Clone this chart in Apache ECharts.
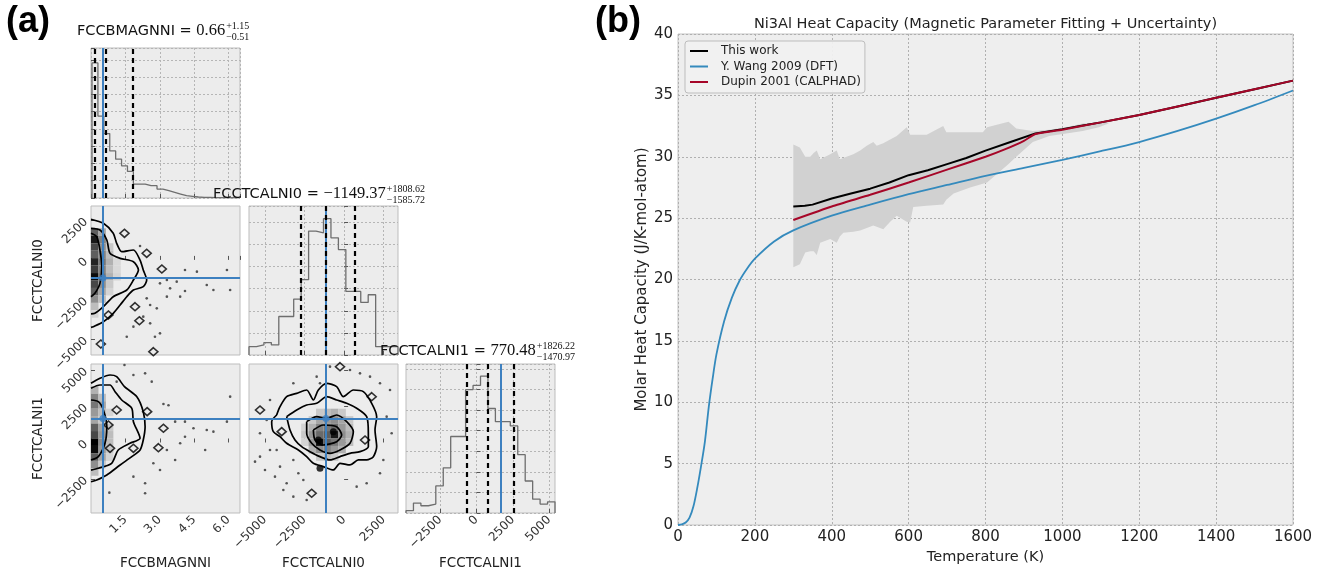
<!DOCTYPE html>
<html>
<head>
<meta charset="utf-8">
<script src="https://cdn.jsdelivr.net/npm/echarts@6/dist/echarts.min.js"></script>
<style>
html, body { margin: 0; padding: 0; background: #fff; }
#chart { width: 1322px; height: 574px; }
</style>
</head>
<body>
<div id="chart"></div>
<script>
var SANS = '"DejaVu Sans", sans-serif';
var SERIF = '"Liberation Serif", "DejaVu Serif", serif';
var BLUE_A = '#3d80c0';

// ---------- panel (a): corner plot ----------
var bmagRange = [0, 6.5];
var cal0Range = [-6000, 3400];
var cal1Range = [-4850, 5400];
var cal0Ticks = [-5000, -2500, 0, 2500];
var cal1Ticks = [-2500, 0, 2500, 5000];

// histogram counts (bins span the given range)
var bmagHistRange = [0.044, 6.49];
var bmagHist = [407, 247, 194, 142, 117, 97, 80, 42, 42, 37, 37, 27, 22, 17, 12, 7, 5, 3, 2, 2, 1, 1, 1, 1, 1];
var cal0Hist = [25, 30, 37, 30, 115, 115, 167, 225, 370, 365, 407, 350, 315, 190, 190, 157, 180, 25, 25, 25];
var cal1Hist = [7, 30, 22, 27, 82, 137, 232, 232, 374, 387, 415, 317, 277, 277, 264, 177, 97, 42, 27, 34];

var bmagQuant = [0.15, 0.66, 1.81];
var cal0Quant = [-2735.09, -1149.37, 659.25];
var cal1Quant = [-700.49, 770.48, 2596.70];
var truthVals = [0.52, -1150, 1650];

// FCCBMAGNNI vs FCCTCALNI0
var mlOuter = [[0, 2560], [0.54, 2307], [0.97, 1680], [1.12, 1047], [1.34, 517], [1.85, 624], [2.14, -7], [2.28, -638], [2.43, -1269], [2.28, -1690], [1.85, -1900], [1.56, -2322], [1.27, -2846], [0.97, -3370], [0.54, -3900], [0.1, -4215], [0, -4260]];
var mlMid = [[0, 1990], [0.39, 1886], [0.69, 1255], [0.83, 414], [1.27, 98], [1.85, -112], [2.07, -638], [1.85, -1269], [1.56, -1900], [0.97, -2322], [0.54, -2952], [0.17, -3372], [0, -3400]];
var mlInner = [[0, 1680], [0.25, 1465], [0.39, 624], [0.47, -428], [0.39, -1479], [0.17, -2110], [0, -2322]];
var mlIslands = [[2.43, 414], [3.09, -575], [1.92, -2952], [2.11, -3836], [0.76, -3477], [1.46, 1677], [0.43, -5307], [2.72, -5790]];
var mlPoints = [[4.10, -1963], [2.43, -2425], [2.79, -4844], [3.01, -4634], [3.45, -1795], [3.74, -1374], [4.10, -638], [4.62, -743], [5.34, -1900], [5.93, -638], [6.07, -1900], [2.14, 876], [1.85, -4213], [2.28, -3582], [2.58, -2846], [2.87, -3056], [3.31, -2320], [3.89, -2320], [3.01, -1479], [3.31, -1269], [5.05, -1584], [2.58, -4003], [1.56, -4844]];
// [xBin, yBin, level]
var mlCells = [[0, 16, 0.6], [0, 15, 0.9], [0, 14, 0.7], [0, 13, 0.6], [0, 12, 0.85], [0, 11, 0.75], [0, 10, 0.95], [0, 9, 0.7], [0, 8, 0.6], [0, 7, 0.4], [0, 6, 0.2], [0, 5, 0.1],
  [1, 16, 0.3], [1, 15, 0.45], [1, 14, 0.4], [1, 13, 0.45], [1, 12, 0.5], [1, 11, 0.45], [1, 10, 0.5], [1, 9, 0.4], [1, 8, 0.3], [1, 7, 0.2],
  [2, 14, 0.15], [2, 13, 0.2], [2, 12, 0.25], [2, 11, 0.2], [2, 10, 0.25], [2, 9, 0.15], [2, 8, 0.1],
  [3, 12, 0.08], [3, 11, 0.08], [3, 10, 0.1]];

// FCCBMAGNNI vs FCCTCALNI1
var blOuter = [[0, 4071], [0.39, 4415], [0.83, 4643], [1.12, 4529], [1.46, 3841], [2.0, 3153], [2.28, 2122], [2.36, 1090], [2.28, 173], [2.14, -514], [1.78, -973], [1.27, -1546], [0.69, -2234], [0.25, -2578], [0, -2700]];
var blMid = [[0, 3727], [0.39, 3956], [0.83, 3956], [1.05, 3497], [1.34, 2924], [1.78, 2351], [1.85, 1434], [2.14, 288], [1.70, -56], [1.19, -514], [0.90, -1431], [0.32, -1776], [0, -1900]];
var blInner = [[0, 2924], [0.32, 2810], [0.54, 2236], [0.69, 1090], [0.61, -56], [0.32, -973], [0, -1202]];
var blIslands = [[1.12, 2236], [2.45, 2122], [3.16, 978], [2.94, -356], [1.85, -400], [0.83, -400], [0.76, 1205]];
var blPoints = [[1.46, 5331], [1.85, 4643], [2.36, 4757], [2.65, 4185], [3.16, 2649], [3.38, 2560], [3.67, 1434], [4.10, 1434], [4.47, 978], [5.34, 745], [6.07, 3153], [5.93, 1434], [4.10, 400], [3.89, -56], [3.31, -514], [3.67, -1202], [2.72, -1431], [3.01, -1890], [1.85, -2351], [2.36, -2805], [2.36, -3493], [0.8, -3451], [4.98, -514], [5.05, 861], [1.12, 4185]];
var blCells = [[0, 16, 0.25], [0, 15, 0.45], [0, 14, 0.5], [0, 13, 0.35], [0, 12, 0.3], [0, 11, 0.6], [0, 10, 0.7], [0, 9, 1.0], [0, 8, 0.95], [0, 7, 0.6], [0, 6, 0.4], [0, 5, 0.2],
  [1, 15, 0.2], [1, 14, 0.3], [1, 13, 0.2], [1, 12, 0.15], [1, 11, 0.3], [1, 10, 0.35], [1, 9, 0.4], [1, 8, 0.35], [1, 7, 0.3], [1, 6, 0.15],
  [2, 13, 0.1], [2, 11, 0.15], [2, 10, 0.2], [2, 9, 0.2], [2, 8, 0.15], [2, 7, 0.1]];

// FCCTCALNI0 vs FCCTCALNI1
var bmOuter = [[-4255, 1892], [-4044, 2465], [-3624, 3153], [-2992, 3382], [-2361, 3612], [-1941, 2924], [-1626, 3612], [-1100, 4071], [-470, 3841], [-49, 3153], [582, 3612], [1213, 3497], [1740, 2695], [2055, 1778], [1950, 861], [2055, -285], [1845, -973], [1424, -1202], [898, -1202], [372, -1546], [-259, -1431], [-680, -1890], [-1311, -1660], [-1941, -1431], [-2361, -973], [-2887, -515], [-3624, -56], [-4044, 402], [-4465, 746], [-4570, 1434], [-4255, 1892]];
var bmMid = [[-3624, 1778], [-2992, 2236], [-2361, 2580], [-1731, 2695], [-1100, 3153], [-470, 2924], [162, 2695], [793, 2351], [1424, 1778], [1529, 631], [1529, -285], [1003, -630], [372, -744], [-259, -973], [-890, -1202], [-1521, -973], [-2151, -630], [-2677, -285], [-3098, 173], [-3413, 861], [-3624, 1778]];
var bmInner = [[-2361, 1434], [-1731, 1778], [-1100, 1663], [-470, 1892], [162, 1434], [582, 746], [372, -56], [-259, -515], [-890, -744], [-1521, -515], [-2046, -56], [-2361, 631], [-2361, 1434]];
var bmCore = [[-1941, 861], [-1311, 1205], [-470, 1090], [-154, 517], [-470, 59], [-1311, -171], [-1836, 173], [-1941, 861]];
var bmIslands = [[-5306, 2236], [-3939, 746], [-2046, -3493], [-259, 5216], [1740, 3153], [1319, 173]];
var bmDark = [[-1626, 173], [-680, 745], [-1521, -1776]];
var bmPoints = [[-5621, -1318], [-5306, -973], [-4991, -1890], [-4675, -515], [-4360, -2349], [-4044, -1660], [-3624, -2807], [-3203, -1202], [-4255, -515], [-3834, -3266], [-3203, -3725], [-2572, -2578], [-2887, -2119], [-1731, 4529], [-1521, 4071], [-890, 5217], [372, 4987], [1003, 4758], [1634, 4529], [2265, 4071], [2896, 3612], [2685, 1778], [3001, 631], [2475, -1202], [2265, -2119], [1424, -2807], [793, -3036], [-2361, -3954], [-4675, 2924], [-4885, 1548], [-5306, 631], [-3203, 4071]];
var bmCells = [[9, 13, 0.15], [10, 13, 0.2], [11, 13, 0.25], [12, 13, 0.15],
  [8, 12, 0.15], [9, 12, 0.3], [10, 12, 0.35], [11, 12, 0.4], [12, 12, 0.3], [13, 12, 0.15],
  [7, 11, 0.1], [8, 11, 0.25], [9, 11, 0.45], [10, 11, 0.5], [11, 11, 0.55], [12, 11, 0.35], [13, 11, 0.2],
  [7, 10, 0.15], [8, 10, 0.35], [9, 10, 0.55], [10, 10, 0.6], [11, 10, 0.9], [12, 10, 0.4], [13, 10, 0.25],
  [7, 9, 0.1], [8, 9, 0.35], [9, 9, 0.95], [10, 9, 0.6], [11, 9, 0.5], [12, 9, 0.35], [13, 9, 0.2],
  [8, 8, 0.25], [9, 8, 0.4], [10, 8, 0.45], [11, 8, 0.35], [12, 8, 0.25],
  [9, 7, 0.15], [10, 7, 0.2], [11, 7, 0.15]];

// ---------- panel (b): heat capacity ----------
var thisWorkT = [300, 330, 350, 400, 450, 500, 550, 600, 650, 700, 750, 800, 865, 930, 1000, 1064, 1100, 1200, 1300, 1400, 1500, 1600];
var thisWorkCp = [25.95, 26.0, 26.1, 26.6, 27.0, 27.4, 27.9, 28.5, 28.9, 29.4, 29.9, 30.5, 31.2, 31.9, 32.25, 32.6, 32.8, 33.4, 34.1, 34.8, 35.5, 36.2];
var wangT = [0, 10, 20, 30, 40, 50, 60, 70, 80, 90, 100, 120, 140, 160, 180, 200, 250, 300, 400, 500, 600, 700, 800, 900, 1000, 1100, 1200, 1300, 1400, 1500, 1600];
var wangCp = [0, 0.05, 0.2, 0.6, 1.5, 3.0, 4.8, 6.8, 9.6, 11.9, 13.9, 16.6, 18.5, 19.9, 20.9, 21.7, 23.1, 24.0, 25.2, 26.1, 26.95, 27.7, 28.45, 29.1, 29.75, 30.45, 31.2, 32.1, 33.1, 34.2, 35.4];
var dupinT = [300, 400, 500, 600, 700, 800, 850, 900, 930, 1000, 1100, 1200, 1300, 1400, 1500, 1600];
var dupinCp = [24.85, 25.95, 26.9, 27.9, 28.95, 30.0, 30.6, 31.3, 31.85, 32.2, 32.8, 33.4, 34.1, 34.8, 35.5, 36.2];
var bandT = [300, 317, 331, 344, 353, 361, 370, 396, 413, 421, 430, 456, 474, 491, 508, 517, 534, 552, 569, 595, 604, 612, 647, 690, 698, 717, 760, 793, 804, 860, 880, 923, 966, 1010, 1053, 1095, 1120];
var bandLo = [21.0, 21.25, 22.2, 22.3, 22.3, 22.0, 23.0, 23.3, 23.0, 23.5, 23.8, 23.9, 24.0, 24.2, 24.4, 24.3, 24.1, 24.7, 25.2, 24.7, 24.65, 25.9, 26.0, 26.1, 26.5, 27.0, 27.5, 27.8, 27.9, 29.4, 30.0, 31.2, 31.7, 31.9, 32.1, 32.4, 32.7];
var bandHi = [31.0, 30.75, 30.0, 30.0, 30.3, 30.5, 29.8, 30.2, 30.5, 29.8, 29.9, 30.2, 30.5, 30.9, 31.2, 30.9, 31.1, 31.4, 31.7, 32.4, 31.8, 31.8, 31.8, 32.5, 32.0, 32.0, 32.0, 32.0, 32.4, 32.85, 32.3, 32.1, 32.2, 32.4, 32.7, 32.8, 32.8];

function zip(a, b) {
	var out = [];
	for (var i = 0; i < a.length; i++)
		out.push([a[i], b[i]]);
	return out;
}

function minus(v) {
	return String(v).replace('-', '\u2212');
}

function histPoints(range, counts) {
	var w = (range[1] - range[0]) / counts.length;
	var pts = [[range[0], 0]];
	for (var i = 0; i < counts.length; i++)
		pts.push([range[0] + i * w, counts[i]]);
	pts.push([range[1], counts[counts.length - 1]]);
	pts.push([range[1], 0]);
	return pts;
}

function measure(text, font) {
	var ctx = document.createElement('canvas').getContext('2d');
	ctx.font = font;
	return ctx.measureText(text).width;
}

function extend(a, b) {
	for (var k in b) a[k] = b[k];
	return a;
}

var gridBase = { show: true, backgroundColor: '#ececec', borderColor: '#bdbdbd', borderWidth: 1, containLabel: false, outerBoundsMode: 'none' };
function grid(l, t, w, h) {
	return extend({ left: l, top: t, width: w, height: h }, gridBase);
}

function axis(gi, range, opt) {
	var ax = {
		type: 'value', gridIndex: gi, min: range[0], max: range[1],
		axisLine: { show: false },
		axisTick: { show: true, inside: true, length: 4, lineStyle: { color: '#555' } },
		axisLabel: { show: false, fontFamily: SANS, fontSize: 12, color: '#333', rotate: 45, margin: 5, formatter: minus },
		splitLine: { show: false, lineStyle: { color: '#b5b5b5', type: [2, 2], width: 1 } },
		nameLocation: 'middle',
		nameTextStyle: { fontFamily: SANS, fontSize: 13.5, color: '#222' }
	};
	opt = opt || {};
	if (opt.ticks) {
		ax.axisTick.customValues = opt.ticks;
		ax.axisLabel.customValues = opt.ticks;
	}
	if (opt.interval) ax.interval = opt.interval;
	if (opt.labels) ax.axisLabel.show = true;
	if (opt.split) ax.splitLine.show = true;
	if (opt.name) { ax.name = opt.name; ax.nameGap = opt.nameGap; }
	if (opt.formatter) ax.axisLabel.formatter = opt.formatter;
	return ax;
}

function bmagFmt(v) { return v === 0 ? '' : v.toFixed(1); }
function plainFmt(v) { return String(v); }

function histSeries(ai, range, counts, quant, truth) {
	var dash = { color: '#000', width: 2.2, type: [5, 4] };
	return {
		type: 'line', xAxisIndex: ai, yAxisIndex: ai, data: histPoints(range, counts),
		step: 'end', symbol: 'none', silent: true, z: 3,
		lineStyle: { color: '#6e6e6e', width: 1.3 },
		markLine: {
			silent: true, symbol: 'none', label: { show: false }, animation: false,
			data: [
				{ xAxis: truth, lineStyle: { color: BLUE_A, width: 2, type: 'solid' } },
				{ xAxis: quant[0], lineStyle: dash },
				{ xAxis: quant[1], lineStyle: dash },
				{ xAxis: quant[2], lineStyle: dash }
			]
		}
	};
}

function cellSeries(ai, cells, xLo, xW, yLo, yW) {
	return {
		type: 'custom', xAxisIndex: ai, yAxisIndex: ai, silent: true, z: 1, clip: true,
		data: cells.map(function (c) { return [xLo + c[0] * xW, yLo + c[1] * yW, c[2]]; }),
		renderItem: function (params, api) {
			var x0 = api.value(0), y0 = api.value(1), lv = api.value(2);
			var a = api.coord([x0, y0 + yW]);
			var b = api.coord([x0 + xW, y0]);
			var g = Math.round(236 * (1 - lv));
			return {
				type: 'rect',
				shape: { x: a[0], y: a[1], width: b[0] - a[0], height: b[1] - a[1] },
				style: { fill: 'rgb(' + g + ',' + g + ',' + g + ')' }
			};
		}
	};
}

function contour(ai, pts) {
	return {
		type: 'line', xAxisIndex: ai, yAxisIndex: ai, data: pts, symbol: 'none', silent: true,
		smooth: 0.25, z: 4, lineStyle: { color: '#000', width: 1.7 }
	};
}

function pairSeries(ai, d) {
	var list = [cellSeries(ai, d.cells, d.cx[0], d.cx[1], d.cy[0], d.cy[1])];
	list.push({
		type: 'scatter', xAxisIndex: ai, yAxisIndex: ai, data: d.points, symbolSize: 2.6, silent: true, z: 3,
		itemStyle: { color: '#3a3a3a', opacity: 0.85 }
	});
	for (var i = 0; i < d.lines.length; i++)
		list.push(contour(ai, d.lines[i]));
	list.push({
		type: 'scatter', xAxisIndex: ai, yAxisIndex: ai, data: d.islands, symbol: 'diamond', symbolSize: [9, 8],
		silent: true, z: 4, itemStyle: { color: 'rgba(0,0,0,0)', borderColor: '#000', borderWidth: 1.6 }
	});
	if (d.dark) {
		list.push({
			type: 'scatter', xAxisIndex: ai, yAxisIndex: ai, data: d.dark, symbolSize: 7, silent: true, z: 4,
			itemStyle: { color: '#000' }
		});
	}
	list.push({
		type: 'scatter', xAxisIndex: ai, yAxisIndex: ai, data: [d.truth], symbolSize: 7, silent: true, z: 6,
		itemStyle: { color: BLUE_A },
		markLine: {
			silent: true, symbol: 'none', label: { show: false }, animation: false,
			lineStyle: { color: BLUE_A, width: 2, type: 'solid' },
			data: [{ xAxis: d.truth[0] }, { yAxis: d.truth[1] }]
		}
	});
	return list;
}

var series = [];
series.push(histSeries(0, bmagHistRange, bmagHist, bmagQuant, truthVals[0]));
series.push(histSeries(3, cal0Range, cal0Hist, cal0Quant, truthVals[1]));
series.push(histSeries(5, cal1Range, cal1Hist, cal1Quant, truthVals[2]));
series = series.concat(pairSeries(1, {
	cells: mlCells, cx: [0, 0.325], cy: [-6000, 470], points: mlPoints,
	lines: [mlOuter, mlMid, mlInner], islands: mlIslands, truth: [truthVals[0], truthVals[1]]
}));
series = series.concat(pairSeries(2, {
	cells: blCells, cx: [0, 0.325], cy: [-4850, 512.5], points: blPoints,
	lines: [blOuter, blMid, blInner], islands: blIslands, truth: [truthVals[0], truthVals[2]]
}));
series = series.concat(pairSeries(4, {
	cells: bmCells, cx: [-6000, 470], cy: [-4850, 512.5], points: bmPoints,
	lines: [bmOuter, bmMid, bmInner, bmCore], islands: bmIslands, dark: bmDark, truth: [truthVals[1], truthVals[2]]
}));

// panel (b)
series.push({
	type: 'custom', xAxisIndex: 6, yAxisIndex: 6, silent: true, z: 1, clip: true,
	data: [[bandT[0], bandLo[0]]],
	renderItem: function (params, api) {
		var pts = [];
		for (var i = 0; i < bandT.length; i++)
			pts.push(api.coord([bandT[i], bandHi[i]]));
		for (var j = bandT.length - 1; j >= 0; j--)
			pts.push(api.coord([bandT[j], bandLo[j]]));
		return { type: 'polygon', shape: { points: pts }, style: { fill: '#d1d1d1' } };
	}
});
series.push({
	name: 'This work', type: 'line', xAxisIndex: 6, yAxisIndex: 6, data: zip(thisWorkT, thisWorkCp),
	symbol: 'none', silent: true, z: 3, lineStyle: { color: '#000', width: 2 }, itemStyle: { color: '#000' }
});
series.push({
	name: 'Y. Wang 2009 (DFT)', type: 'line', xAxisIndex: 6, yAxisIndex: 6, data: zip(wangT, wangCp),
	symbol: 'none', smooth: 0.3, silent: true, z: 3, lineStyle: { color: '#348ABD', width: 1.8 }, itemStyle: { color: '#348ABD' }
});
series.push({
	name: 'Dupin 2001 (CALPHAD)', type: 'line', xAxisIndex: 6, yAxisIndex: 6, data: zip(dupinT, dupinCp),
	symbol: 'none', smooth: 0.2, silent: true, z: 4, lineStyle: { color: '#A60628', width: 2 }, itemStyle: { color: '#A60628' }
});

var T_SANS = 14.5, T_SERIF = 16.5, T_SMALL = 10;

function cornerTitle(x, yc, label, val, up, dn) {
	var main = label + ' = ';
	var wMain = measure(main, T_SANS + 'px ' + SANS);
	var wVal = measure(val, T_SERIF + 'px ' + SERIF);
	var st = function (text, size, fam) {
		return { text: text, fontFamily: fam, fontSize: size, fill: '#111', verticalAlign: 'middle', textAlign: 'left' };
	};
	return [
		{ type: 'text', x: x, y: yc, z: 100, style: st(main, T_SANS, SANS) },
		{ type: 'text', x: x + wMain, y: yc, z: 100, style: st(val, T_SERIF, SERIF) },
		{ type: 'text', x: x + wMain + wVal + 1, y: yc - 5, z: 100, style: st(up, T_SMALL, SERIF) },
		{ type: 'text', x: x + wMain + wVal + 1, y: yc + 6, z: 100, style: st(dn, T_SMALL, SERIF) }
	];
}

var graphics = [
	{ type: 'text', x: 6, y: 4, z: 100, style: { text: '(a)', fontFamily: '"Liberation Sans", Arial, sans-serif', fontWeight: 'bold', fontSize: 36, fill: '#000' } },
	{ type: 'text', x: 595, y: 4, z: 100, style: { text: '(b)', fontFamily: '"Liberation Sans", Arial, sans-serif', fontWeight: 'bold', fontSize: 36, fill: '#000' } },
	{ type: 'text', x: 985.5, y: 24, z: 100, style: { text: 'Ni3Al Heat Capacity (Magnetic Parameter Fitting + Uncertainty)', fontFamily: SANS, fontSize: 14.5, fill: '#222', textAlign: 'center', verticalAlign: 'middle' } }
];
graphics = graphics.concat(cornerTitle(77, 31, 'FCCBMAGNNI', '0.66', '+1.15', '\u22120.51'));
graphics = graphics.concat(cornerTitle(213, 194, 'FCCTCALNI0', '\u22121149.37', '+1808.62', '\u22121585.72'));
graphics = graphics.concat(cornerTitle(380, 351, 'FCCTCALNI1', '770.48', '+1826.22', '\u22121470.97'));

var option = {
	animation: false,
	backgroundColor: '#ffffff',
	textStyle: { fontFamily: SANS },
	grid: [
		grid(91, 48, 149, 150),
		grid(91, 206, 149, 149),
		grid(91, 364, 149, 149),
		grid(249, 206, 149, 149),
		grid(249, 364, 149, 149),
		grid(406, 364, 149, 149),
		{ left: 678, top: 34, width: 615, height: 491, show: true, backgroundColor: '#eeeeee', borderColor: '#c4c4c4', borderWidth: 1, containLabel: false, outerBoundsMode: 'none' }
	],
	xAxis: [
		axis(0, bmagRange, { interval: 1.5, split: true }),
		axis(1, bmagRange, { interval: 1.5 }),
		axis(2, bmagRange, { interval: 1.5, labels: true, formatter: bmagFmt, name: 'FCCBMAGNNI', nameGap: 43 }),
		axis(3, cal0Range, { ticks: cal0Ticks, split: true }),
		axis(4, cal0Range, { ticks: cal0Ticks, labels: true, name: 'FCCTCALNI0', nameGap: 43 }),
		axis(5, cal1Range, { ticks: cal1Ticks, split: true, labels: true, name: 'FCCTCALNI1', nameGap: 43 }),
		{
			type: 'value', gridIndex: 6, min: 0, max: 1600, interval: 200,
			axisLine: { show: false }, axisTick: { show: false },
			axisLabel: { fontFamily: SANS, fontSize: 15, color: '#222', margin: 5, formatter: plainFmt },
			splitLine: { show: true, lineStyle: { color: '#b0b0b0', type: [2, 2] } },
			name: 'Temperature (K)', nameLocation: 'middle', nameGap: 20,
			nameTextStyle: { fontFamily: SANS, fontSize: 14.5, color: '#222' }
		}
	],
	yAxis: [
		axis(0, [0, 452], { interval: 52, split: true }),
		axis(1, cal0Range, { ticks: cal0Ticks, labels: true, name: 'FCCTCALNI0', nameGap: 46 }),
		axis(2, cal1Range, { ticks: cal1Ticks, labels: true, name: 'FCCTCALNI1', nameGap: 46 }),
		axis(3, [0, 445], { interval: 66, split: true }),
		axis(4, cal1Range, { ticks: cal1Ticks }),
		axis(5, [0, 452], { interval: 62.5, split: true }),
		{
			type: 'value', gridIndex: 6, min: 0, max: 40, interval: 5,
			axisLine: { show: false }, axisTick: { show: false },
			axisLabel: { fontFamily: SANS, fontSize: 15, color: '#222', margin: 5, formatter: plainFmt },
			splitLine: { show: true, lineStyle: { color: '#b0b0b0', type: [2, 2] } },
			name: 'Molar Heat Capacity (J/K-mol-atom)', nameLocation: 'middle', nameGap: 24,
			nameTextStyle: { fontFamily: SANS, fontSize: 15, color: '#222' }
		}
	],
	legend: {
		data: ['This work', 'Y. Wang 2009 (DFT)', 'Dupin 2001 (CALPHAD)'],
		orient: 'vertical', left: 685, top: 41, icon: 'rect',
		backgroundColor: 'rgba(240,240,240,0.95)', borderColor: '#bdbdbd', borderWidth: 1, borderRadius: 3,
		padding: [3, 4, 4, 5], itemGap: 1.5, itemWidth: 18, itemHeight: 2,
		textStyle: { fontFamily: SANS, fontSize: 12, color: '#222', lineHeight: 14, padding: [0, 0, 0, 8] },
		selectedMode: false
	},
	graphic: graphics,
	series: series
};

var chart = echarts.init(document.getElementById('chart'));
chart.setOption(option);
</script>
</body>
</html>
